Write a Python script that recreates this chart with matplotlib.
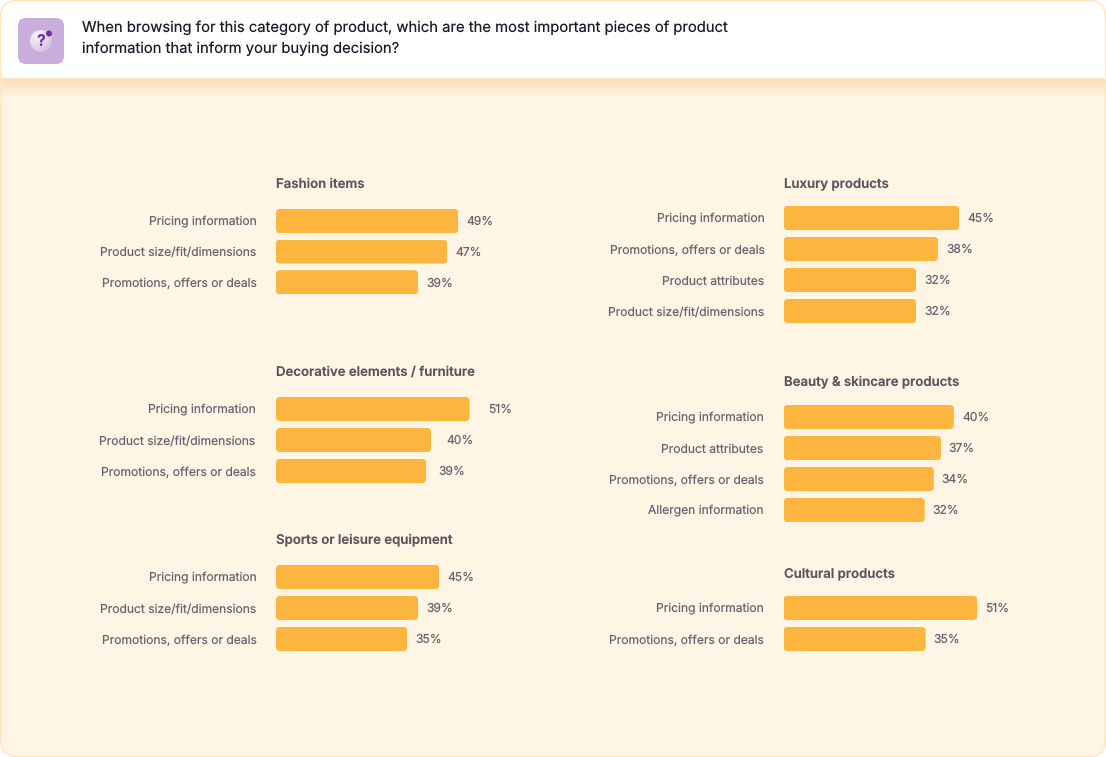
import numpy as np
import matplotlib
matplotlib.use("Agg")
import matplotlib.pyplot as plt
from matplotlib.patches import FancyBboxPatch, Circle, Rectangle
from matplotlib.colors import LinearSegmentedColormap

plt.rcParams['font.family'] = ['Inter', 'DejaVu Sans']
plt.rcParams['text.hinting'] = 'no_hinting'
plt.rcParams['text.hinting_factor'] = 1

W, H = 1106, 757
QUESTION = ("When browsing for this category of product, which are the most important pieces of product\n"
            "information that inform your buying decision?")

fashion_cats = ["Pricing information", "Product size/fit/dimensions", "Promotions, offers or deals"]
fashion_bars = [48.2, 45.3, 37.6]
fashion_labels = ["49%", "47%", "39%"]

decor_cats = ["Pricing information", "Product size/fit/dimensions", "Promotions, offers or deals"]
decor_bars = [51.2, 41.0, 39.7]
decor_labels = ["51%", "40%", "39%"]

sports_cats = ["Pricing information", "Product size/fit/dimensions", "Promotions, offers or deals"]
sports_bars = [43.2, 37.6, 34.7]
sports_labels = ["45%", "39%", "35%"]

luxury_cats = ["Pricing information", "Promotions, offers or deals", "Product attributes", "Product size/fit/dimensions"]
luxury_bars = [46.4, 40.8, 35.0, 35.0]
luxury_labels = ["45%", "38%", "32%", "32%"]

beauty_cats = ["Pricing information", "Product attributes", "Promotions, offers or deals", "Allergen information"]
beauty_bars = [45.0, 41.6, 39.7, 37.3]
beauty_labels = ["40%", "37%", "34%", "32%"]

cultural_cats = ["Pricing information", "Promotions, offers or deals"]
cultural_bars = [51.2, 37.6]
cultural_labels = ["51%", "35%"]

BAR = "#FCB53F"
TXT = "#6B6370"
HEAD = "#5C5560"
BG = "#FFF5E5"
EDGE = "#FFE6BE"
PX_PER = 3.78
FS = 8.7

fig = plt.figure(figsize=(W / 100, H / 100), dpi=100, facecolor="white")
bg = fig.add_axes([0, 0, 1, 1])

# card
bg.add_patch(FancyBboxPatch((0.7, 0.7), W - 1.4, H - 1.4, boxstyle="round,pad=0,rounding_size=16",
                            fc=BG, ec=EDGE, lw=1))
# shadow under the header
shadow = LinearSegmentedColormap.from_list("s", ["#F7E0BC", BG])
bg.imshow(np.linspace(0, 1, 64).reshape(-1, 1) ** 1.2, extent=(1.5, W - 1.5, 98, 78), cmap=shadow,
          aspect="auto", zorder=1.5, origin="upper")
# header
bg.add_patch(FancyBboxPatch((0.7, 0.7), W - 1.4, 60, boxstyle="round,pad=0,rounding_size=16",
                            fc="white", ec=EDGE, lw=1, zorder=2))
bg.add_patch(Rectangle((1.2, 18), W - 2.4, 59.5, fc="white", ec="none", zorder=2.1))
bg.plot([1, W - 1], [77.7, 77.7], color="#FBE8CC", lw=1, zorder=2.2)
# icon
bg.add_patch(FancyBboxPatch((18, 18), 46, 46, boxstyle="round,pad=0,rounding_size=8",
                            fc="#C9AEDC", ec="none", zorder=3))
yy, xx = np.mgrid[0:1:48j, 0:1:48j]
glow = LinearSegmentedColormap.from_list("g", ["#F6F0F9", "#E4D6EC", "#CDB5DF"])
im = bg.imshow(np.hypot(xx - 0.3, yy - 0.25), extent=(30, 52, 52, 30), cmap=glow, vmin=0.05, vmax=0.95,
               aspect="auto", zorder=3.1, origin="upper")
im.set_clip_path(Circle((41, 41), 11, transform=bg.transData))
bg.add_patch(Circle((49, 33.5), 3, fc="#71309F", ec="none", zorder=3.3))
bg.text(41, 41.5, "?", ha="center", va="center", fontsize=11.5, fontweight="bold", color="#71309F", zorder=3.2)
bg.text(82, 38.5, QUESTION, ha="left", va="center", fontsize=10.65, color="#1F1A2B", linespacing=1.55,
        fontweight="normal", zorder=4)
bg.set_xlim(0, W)
bg.set_ylim(H, 0)
bg.axis("off")


def panel(title, cats, bars, labels, x0, title_y, first_y, step, gaps, tick_gap=19.5):
    n = len(cats)
    top = first_y - step / 2
    height = step * n
    width = 300
    ax = fig.add_axes([x0 / W, 1 - (top + height) / H, width / W, height / H])
    ax.patch.set_visible(False)
    ax.set_xlim(0, width / PX_PER)
    ax.set_ylim(n - 0.5, -0.5)
    ys = np.arange(n)
    bh = 24 / step
    rects = ax.barh(ys, bars, height=bh, color=BAR, linewidth=0)
    for r in rects:
        clip = FancyBboxPatch((r.get_x(), r.get_y()), r.get_width(), r.get_height(),
                              boxstyle=f"round,pad=0,rounding_size={4 / PX_PER}",
                              mutation_aspect=PX_PER / step, transform=ax.transData)
        r.set_clip_path(clip)
    ax.set_yticks(ys, cats)
    ax.tick_params(axis="y", length=0, pad=tick_gap * 0.72, labelsize=FS, labelcolor=TXT)
    ax.set_xticks([])
    for s in ax.spines.values():
        s.set_visible(False)
    for y, v, lab, g in zip(ys, bars, labels, gaps):
        ax.annotate(lab, (v, y), xytext=(g * 0.72, -0.7), textcoords="offset points",
                    va="center", ha="left", fontsize=FS, color=TXT)
    bg.text(x0, title_y + 0.7, title, ha="left", va="center", fontsize=9.5, fontweight="semibold", color=HEAD)


panel("Fashion items", fashion_cats, fashion_bars, fashion_labels, 276, 183.5, 221, 30.6, [8, 8.5, 8])
panel("Decorative elements / furniture", decor_cats, decor_bars, decor_labels, 276, 371, 409, 31, [18.5, 15, 12.5], 20.3)
panel("Sports or leisure equipment", sports_cats, sports_bars, sports_labels, 276, 540, 577, 31, [8.5, 8, 8], 19.5)
panel("Luxury products", luxury_cats, luxury_bars, luxury_labels, 783.7, 183.5, 218, 31, [8, 8, 8.5, 8.5], 19)
panel("Beauty & skincare products", beauty_cats, beauty_bars, beauty_labels, 783.7, 382, 417, 31, [8.5, 7, 8, 8], 20)
panel("Cultural products", cultural_cats, cultural_bars, cultural_labels, 783.5, 573, 608, 31, [8, 8], 19.5)

fig.savefig("out.png", dpi=100, facecolor="white")
